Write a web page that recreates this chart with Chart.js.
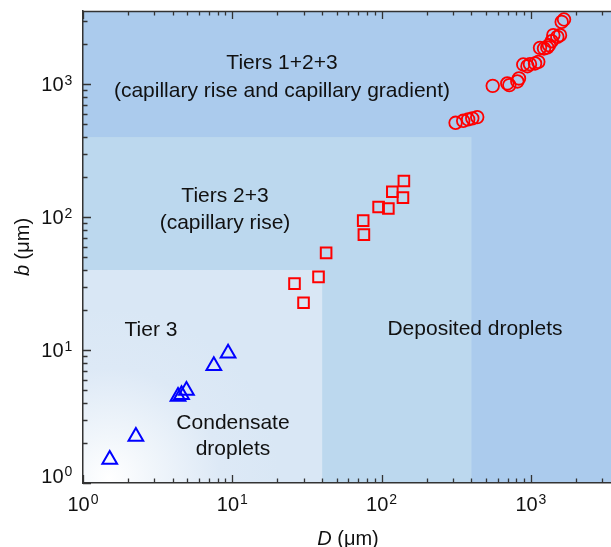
<!DOCTYPE html>
<html>
<head>
<meta charset="utf-8">
<title>b vs D</title>
<script src="https://cdn.jsdelivr.net/npm/chart.js@4.4.1/dist/chart.umd.min.js"></script>
<style>
  html, body { margin: 0; padding: 0; background: #fff; }
  #wrap { width: 611px; height: 547px; }
</style>
</head>
<body>
<div id="wrap"><canvas id="chart" width="611" height="547"></canvas></div>
<script>
// Tier 3 — condensate droplets
const triD = [1.51, 2.26, 4.33, 4.57, 4.93, 7.52, 9.37];
const triB = [1.50, 2.24, 4.47, 4.61, 4.96, 7.61, 9.48];

// Tiers 2+3 — capillary rise
const sqD = [26.1, 30.0, 37.8, 42.5, 76.1, 75.3, 95.5, 111, 118, 139, 141];
const sqB = [31.6, 22.7, 35.5, 53.8, 73.8, 94, 119, 116, 155, 140, 187];

// Tiers 1+2+3 — capillary rise and capillary gradient
const ciD = [313, 352, 380, 405, 437, 555, 695, 717, 811, 832, 889, 948, 986, 1066, 1121,
             1151, 1224, 1288, 1322, 1378, 1413, 1503, 1567, 1608, 1667];
const ciB = [512, 530, 543, 553, 565, 971, 1012, 984, 1048, 1104, 1406, 1365, 1414, 1431, 1471,
             1875, 1855, 1887, 1964, 2104, 2335, 2266, 2335, 2939, 3063];

// tier edges (µm), same on both axes
const tierEdges = [40, 400];
// decade exponents used for tick labels
const decades = [0, 1, 2, 3];
const xRange = [1, 3440];
const yRange = [1, 3550];

const FONT = '"Liberation Sans", Arial, Helvetica, sans-serif';
const AXIS = '#333';
const BG = { dark: '#abcbed', mid: '#bcd8ee', light: '#d9e7f5' };

const pts = (xs, ys) => xs.map((v, i) => ({ x: v, y: ys[i] }));

function minorValues(range) {
  const out = [];
  for (let e = -1; e <= 4; e++) {
    for (let m = 1; m <= 9; m++) {
      const v = m * Math.pow(10, e);
      if (v >= range[0] && v <= range[1]) out.push({ v, major: m === 1 });
    }
  }
  return out;
}

// coloured tier regions behind everything
const regionsPlugin = {
  id: 'regions',
  beforeDraw(chart) {
    const { ctx, chartArea: a, scales: { x, y } } = chart;
    const x1 = x.getPixelForValue(tierEdges[0]);
    const x2 = x.getPixelForValue(tierEdges[1]);
    const y1 = y.getPixelForValue(tierEdges[0]);
    const y2 = y.getPixelForValue(tierEdges[1]);
    ctx.save();
    ctx.fillStyle = BG.dark;
    ctx.fillRect(a.left, a.top, a.right - a.left, a.bottom - a.top);
    ctx.fillStyle = BG.mid;
    ctx.fillRect(a.left, y2, x2 - a.left, a.bottom - y2);
    const cx = x.getPixelForValue(1.5), cy = y.getPixelForValue(1.08);
    const g = ctx.createRadialGradient(cx, cy, 0, cx, cy, 170);
    g.addColorStop(0, '#ffffff');
    g.addColorStop(0.25, '#f1f6fb');
    g.addColorStop(0.65, '#dde9f6');
    g.addColorStop(1, BG.light);
    ctx.fillStyle = g;
    ctx.fillRect(a.left, y1, x1 - a.left, a.bottom - y1);
    ctx.restore();
  }
};

// region captions
const captionsPlugin = {
  id: 'captions',
  beforeDatasetsDraw(chart) {
    const { ctx } = chart;
    const items = [
      ['Tiers 1+2+3', 282, 69],
      ['(capillary rise and capillary gradient)', 282, 96.5],
      ['Tiers 2+3', 225, 201.5],
      ['(capillary rise)', 225, 228.5],
      ['Tier 3', 151, 336],
      ['Condensate', 233, 429],
      ['droplets', 233, 455],
      ['Deposited droplets', 475, 335]
    ];
    ctx.save();
    ctx.fillStyle = '#111';
    ctx.font = '21px ' + FONT;
    ctx.textAlign = 'center';
    ctx.textBaseline = 'alphabetic';
    items.forEach(([t, px, py]) => ctx.fillText(t, px, py));
    ctx.restore();
  }
};

// inward ticks, top frame line, 10^n labels, axis titles
const axesPlugin = {
  id: 'axesDeco',
  afterDraw(chart) {
    const { ctx, chartArea: a, scales: { x, y } } = chart;
    ctx.save();
    ctx.strokeStyle = AXIS;
    ctx.lineWidth = 1.3;
    ctx.beginPath();
    ctx.moveTo(a.left, a.top + 0.5);
    ctx.lineTo(a.right, a.top + 0.5);
    minorValues(xRange).forEach(({ v, major }) => {
      const px = Math.round(x.getPixelForValue(v)) + 0.5;
      const len = major ? 8 : 4.5;
      ctx.moveTo(px, a.bottom); ctx.lineTo(px, a.bottom - len);
      ctx.moveTo(px, a.top); ctx.lineTo(px, a.top + len);
    });
    minorValues(yRange).forEach(({ v, major }) => {
      const py = Math.round(y.getPixelForValue(v)) + 0.5;
      const len = major ? 8 : 4.5;
      ctx.moveTo(a.left, py); ctx.lineTo(a.left + len, py);
    });
    ctx.stroke();

    ctx.fillStyle = '#111';
    ctx.textBaseline = 'alphabetic';
    const big = '20px ' + FONT, sup = '14px ' + FONT;

    // x labels
    decades.forEach(e => {
      const px = x.getPixelForValue(Math.pow(10, e));
      ctx.font = big;
      const w1 = ctx.measureText('10').width;
      ctx.font = sup;
      const w2 = ctx.measureText(String(e)).width;
      const x0 = px - (w1 + w2 + 1) / 2;
      ctx.textAlign = 'left';
      ctx.font = big;
      ctx.fillText('10', x0, 511);
      ctx.font = sup;
      ctx.fillText(String(e), x0 + w1 + 1, 504);
    });

    // y labels
    decades.forEach(e => {
      const py = y.getPixelForValue(Math.pow(10, e));
      const base = e === 0 ? py : py + 7.3;
      ctx.font = big;
      ctx.textAlign = 'right';
      ctx.fillText('10', 63.5, base);
      ctx.font = sup;
      ctx.textAlign = 'left';
      ctx.fillText(String(e), 64.5, base - 6.8);
    });

    // axis titles: italic symbol + unit
    const title = (sym, cx, cy, rot) => {
      ctx.save();
      ctx.translate(cx, cy);
      ctx.rotate(rot);
      ctx.font = 'italic 20px ' + FONT;
      const ws = ctx.measureText(sym).width;
      ctx.font = '20px ' + FONT;
      const wu = ctx.measureText(' (\u03bcm)').width;
      const s = -(ws + wu) / 2;
      ctx.textAlign = 'left';
      ctx.font = 'italic 20px ' + FONT;
      ctx.fillText(sym, s, 0);
      ctx.font = '20px ' + FONT;
      ctx.fillText(' (\u03bcm)', s + ws, 0);
      ctx.restore();
    };
    title('D', (a.left + a.right) / 2 + 1, 545, 0);
    title('b', 29, (a.top + a.bottom) / 2, -Math.PI / 2);
    ctx.restore();
  }
};

const chart = new Chart(document.getElementById('chart'), {
  type: 'scatter',
  data: {
    datasets: [
      {
        data: pts(triD, triB),
        pointStyle: 'triangle',
        pointRadius: 8.5,
        borderColor: '#0000ff',
        backgroundColor: 'rgba(0,0,0,0)',
        borderWidth: 2
      },
      {
        data: pts(sqD, sqB),
        pointStyle: 'rect',
        pointRadius: 7.5,
        borderColor: '#ff0000',
        backgroundColor: 'rgba(0,0,0,0)',
        borderWidth: 2
      },
      {
        data: pts(ciD, ciB),
        pointStyle: 'circle',
        pointRadius: 6.3,
        borderColor: '#ff0000',
        backgroundColor: 'rgba(0,0,0,0)',
        borderWidth: 1.8
      }
    ]
  },
  options: {
    responsive: false,
    devicePixelRatio: 1,
    animation: false,
    events: [],
    layout: { autoPadding: false, padding: { top: 11, right: 0, left: 0, bottom: 0 } },
    plugins: { legend: { display: false }, tooltip: { enabled: false } },
    scales: {
      x: {
        type: 'logarithmic',
        min: xRange[0],
        max: xRange[1],
        ticks: { display: false },
        grid: { display: false },
        border: { display: true, color: AXIS, width: 1.5 },
        afterFit: s => { s.height = 64; }
      },
      y: {
        type: 'logarithmic',
        min: yRange[0],
        max: yRange[1],
        ticks: { display: false },
        grid: { display: false },
        border: { display: true, color: AXIS, width: 1.5 },
        afterFit: s => { s.width = 83; }
      }
    }
  },
  plugins: [regionsPlugin, captionsPlugin, axesPlugin]
});
</script>
</body>
</html>
